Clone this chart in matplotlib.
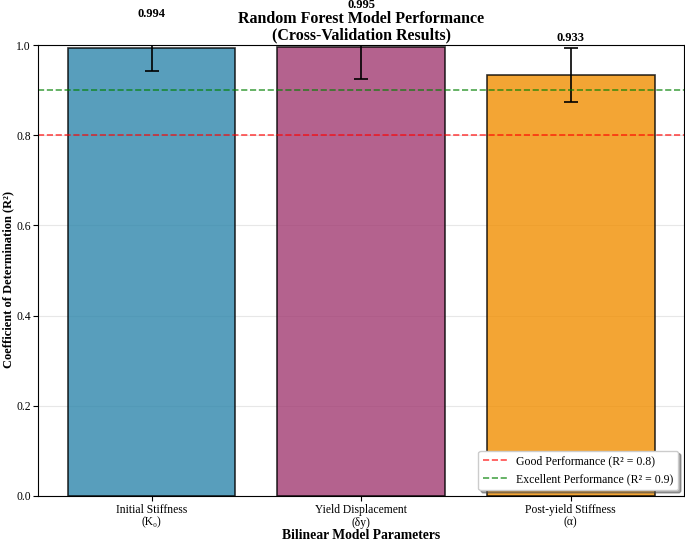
import matplotlib
matplotlib.use("Agg")
import matplotlib.pyplot as plt
import numpy as np

categories = ["Initial Stiffness\n(K₀)", "Yield Displacement\n(δy)", "Post-yield Stiffness\n(α)"]
r2_values = [0.994, 0.995, 0.933]
r2_errors = [0.051, 0.071, 0.060]
value_labels = ["0.994", "0.995", "0.933"]
bar_colors = ["#2E86AB", "#A23B72", "#F18F01"]
good_threshold = 0.8
excellent_threshold = 0.9

plt.rcParams['font.family'] = ['Liberation Serif', 'DejaVu Serif']
plt.rcParams['mathtext.fontset'] = 'stix'

fig = plt.figure(figsize=(6.85, 5.41), dpi=100)
ax = fig.add_axes([0.0562, 0.0832, 0.9423, 0.8336])

x = np.arange(len(categories))
bars = ax.bar(x, r2_values, width=0.8, yerr=r2_errors, capsize=5,
              color=bar_colors, alpha=0.8, edgecolor='black', linewidth=1.2,
              error_kw=dict(ecolor='black', elinewidth=1.2, capthick=1.2, alpha=1.0))

for xi, v, e, lab in zip(x, r2_values, r2_errors, value_labels):
    ax.text(xi, v + e + 0.01, lab, ha='center', va='bottom',
            fontsize=9, fontweight='bold')

ax.axhline(good_threshold, color='red', linestyle='--', alpha=0.7, linewidth=1.2,
           label='Good Performance (R² = 0.8)')
ax.axhline(excellent_threshold, color='green', linestyle='--', alpha=0.7, linewidth=1.2,
           label='Excellent Performance (R² = 0.9)')

ax.set_ylim(0, 1.0)
ax.set_xticks(x)
ax.set_xticklabels(categories, fontsize=8.4)
for lbl in ax.get_xticklabels():
    lbl.set_linespacing(1.05)
ax.tick_params(axis='x', pad=2.5)
ax.tick_params(axis='y', labelsize=8.4, pad=2)
ax.set_yticks([0.0, 0.2, 0.4, 0.6, 0.8, 1.0])
ax.yaxis.grid(True, alpha=0.3)
ax.set_axisbelow(True)

ax.set_xlabel('Bilinear Model Parameters', fontsize=9.8, fontweight='bold', labelpad=0)
ax.set_ylabel('Coefficient of Determination (R²)', fontsize=9.0, fontweight='bold',
              va='center')
ax.yaxis.set_label_coords(-0.047, 0.479)
ax.set_title('Random Forest Model Performance\n(Cross-Validation Results)',
             fontsize=11.5, fontweight='bold', pad=4, linespacing=1.0)

ax.legend(loc='lower right', fontsize=8.5, frameon=True, fancybox=True, shadow=True)

fig.savefig('out.png', dpi=100)
